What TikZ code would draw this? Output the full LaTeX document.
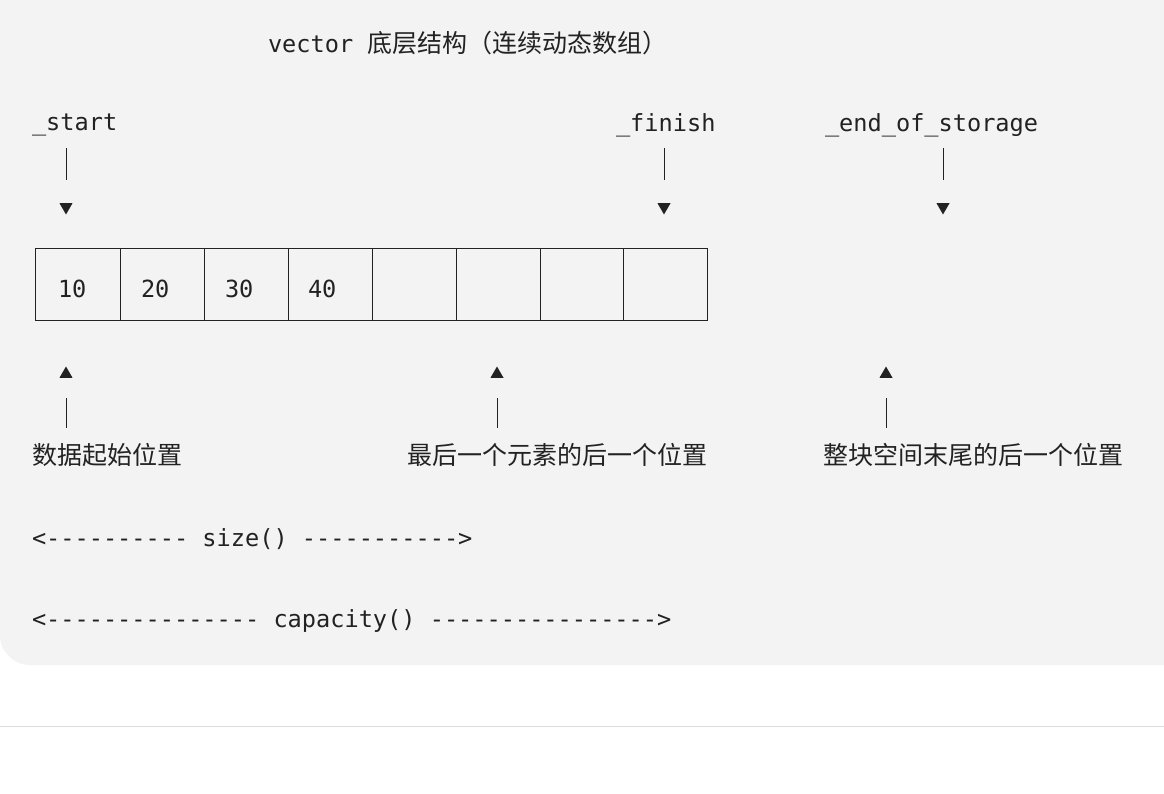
\documentclass[tikz,border=0pt]{standalone}
\usepackage{fontspec}
\setmonofont{DejaVu Sans Mono}
\newfontfamily\cjk{Noto Sans CJK SC}
\usetikzlibrary{shapes.geometric}
\definecolor{panel}{HTML}{F3F3F3}
\definecolor{rule}{HTML}{DDDDDD}
\definecolor{ink}{HTML}{222222}

\begin{document}
\begin{tikzpicture}[x=1pt,y=-1pt,
  every node/.style={inner sep=0pt, outer sep=0pt, text=ink},
  mono/.style={anchor=west, font=\ttfamily\fontsize{23.6}{27}\selectfont},
  han/.style={anchor=west, font=\cjk\fontsize{25}{29}\selectfont},
  bar/.style={draw=ink, line width=1pt},
  down/.style={regular polygon, regular polygon sides=3, shape border rotate=180, fill=ink, minimum size=15pt},
  up/.style={regular polygon, regular polygon sides=3, fill=ink, minimum size=15pt}]
\useasboundingbox (0,0) rectangle (1164,794);
\fill[panel] (0,0) -- (1164,0) -- (1164,665) -- (30,665) arc (90:180:30) -- cycle;
\draw[rule, line width=1pt] (0,726) -- (1164,726);

% title
\node[mono] (title) at (268,43) {vector {\cjk\fontsize{25}{29}\selectfont 底层结构（连续动态数组）}};

% pointers above
\node[mono] (start) at (32,125) {\_start};
\node[mono] (finish) at (616,125) {\_finish};
\node[mono] (eos) at (825,125) {\_end\_of\_storage};
\foreach \name/\x in {start/66, finish/664, eos/943} {
  \coordinate (\name top) at (\x,148);
  \coordinate (\name bot) at (\x,180);
  \node[down] (\name tip) at (\x,207) {};
  \draw[bar] (\name top) -- (\name bot);
}

% array cells
\draw[bar] (35,249) rectangle (707,320);
\foreach \x in {120,204,288,372,456,540,623}
  \draw[bar] (\x,249) -- (\x,320);
\foreach \v/\x in {10/58, 20/141, 30/225, 40/308}
  \node[mono] (cell\v) at (\x,289) {\v};

% pointers below
\foreach \name/\x in {data/66, last/497, tail/886} {
  \node[up] (\name tip) at (\x,374) {};
  \coordinate (\name top) at (\x,398);
  \coordinate (\name bot) at (\x,428);
  \draw[bar] (\name top) -- (\name bot);
}
\node[han] (data) at (32,455) {数据起始位置};
\node[han] (last) at (407,455) {最后一个元素的后一个位置};
\node[han] (tail) at (823,455) {整块空间末尾的后一个位置};

% size and capacity
\node[mono] (size) at (32,539) {<---------- size() ----------->};
\node[mono] (cap) at (32,621) {<--------------- capacity() ---------------->};
\end{tikzpicture}
\end{document}
